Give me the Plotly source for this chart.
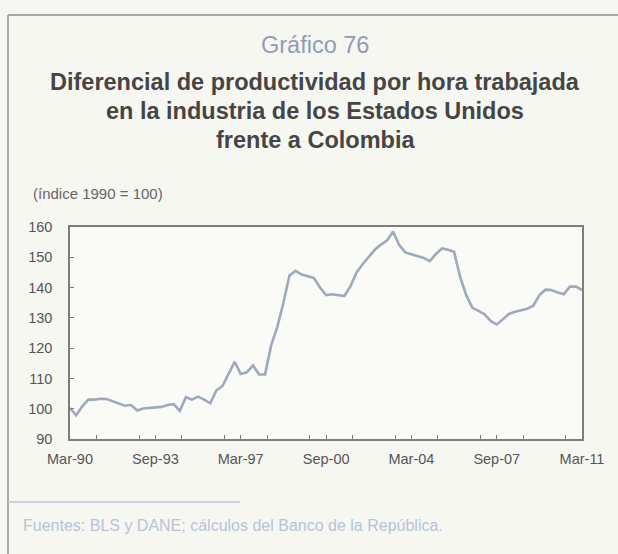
import pandas as pd
import plotly.graph_objects as go

# Quarterly index (1990 = 100), Mar-90 .. Mar-11
start_period = "1990-03-01"
end_period = "2011-03-01"
productivity_gap = [
    100.2, 97.8, 100.8, 103.0, 103.0, 103.3, 103.2, 102.5,
    101.8, 101.0, 101.2, 99.4, 100.1, 100.2, 100.5, 100.6,
    101.2, 101.5, 99.3, 103.8, 103.0, 104.0, 103.0, 101.8,
    106.0, 107.5, 111.5, 115.5, 111.5, 112.0, 114.3, 111.3,
    111.3, 121.0, 127.0, 135.0, 144.0, 145.5, 144.3, 143.8,
    143.2, 140.0, 137.5, 137.8, 137.4, 137.2, 140.5, 145.0,
    147.7, 150.3, 152.5, 154.2, 155.5, 158.5, 154.0, 151.6,
    151.0, 150.6, 149.8, 148.7, 151.0, 152.9, 152.5, 151.8,
    143.5, 137.5, 133.3, 132.3, 131.2, 129.0, 127.8, 129.5,
    131.3, 132.0, 132.6, 133.0, 134.0, 137.5, 139.3, 139.2,
    138.4, 137.8, 140.3, 140.3, 139.2,
]
quarters = pd.date_range(start_period, periods=len(productivity_gap), freq="3MS")

chart_number = "Gráfico 76"
title_lines = [
    "Diferencial de productividad por hora trabajada",
    "en la industria de los Estados Unidos",
    "frente a Colombia",
]
unit_label = "(índice 1990 = 100)"
source_note = "Fuentes: BLS y DANE; cálculos del Banco de la República."

W, H = 618, 554
L, R, T, B = 70, 36, 227, 115
PW, PH = W - L - R, H - T - B


def px(x):
    return (x - L) / PW


def py(y):
    return (H - B - y) / PH


axis_col = "#7d7d7d"
font_family = "Liberation Sans, Arial, sans-serif"
tick_font = dict(family=font_family, size=14.5, color="#555555")

fig = go.Figure()
fig.add_trace(go.Scatter(
    x=quarters, y=productivity_gap, mode="lines",
    line=dict(color="#9ea8bf", width=2.6),
    hoverinfo="skip", showlegend=False,
))

fig.update_layout(
    width=W, height=H,
    margin=dict(l=L, r=R, t=T, b=B, pad=0),
    paper_bgcolor="#f7f7f2",
    plot_bgcolor="#fafaf6",
    showlegend=False,
)

fig.update_xaxes(
    type="date", range=[start_period, end_period],
    tick0=start_period, dtick="M42", tickformat="%b-%y",
    ticks="inside", ticklen=4, tickcolor=axis_col, tickwidth=1,
    minor=dict(dtick="M21", ticks="inside", ticklen=4, tickcolor=axis_col),
    showline=True, linecolor=axis_col, linewidth=1.5, mirror=True,
    showgrid=False, zeroline=False, tickfont=tick_font,
    ticklabelstandoff=6,
)
fig.update_yaxes(
    range=[90, 160], dtick=10, tick0=90,
    ticks="inside", ticklen=4, tickcolor=axis_col, tickwidth=1,
    showline=True, linecolor=axis_col, linewidth=1.5, mirror=True,
    showgrid=False, zeroline=False, tickfont=tick_font,
    ticklabelstandoff=13,
)

shapes = [
    # outer frame (top and left edges)
    dict(type="line", xref="paper", yref="paper", x0=px(8), x1=px(W + 5), y0=py(15), y1=py(15),
         line=dict(color="#8c8c8c", width=1.5)),
    dict(type="line", xref="paper", yref="paper", x0=px(8), x1=px(8), y0=py(15), y1=py(H + 5),
         line=dict(color="#8c8c8c", width=1.5)),
    # rule above the source note
    dict(type="line", xref="paper", yref="paper", x0=px(8), x1=px(240), y0=py(502), y1=py(502),
         line=dict(color="#b9c5d8", width=1.5)),
]
fig.update_layout(shapes=shapes)

ann = [
    dict(text=chart_number, x=px(315), y=py(45), xanchor="center", yanchor="middle",
         font=dict(family=font_family, size=23.5, color="#8e9db5")),
    dict(text=unit_label, x=px(31), y=py(193), xanchor="left", yanchor="middle",
         font=dict(family=font_family, size=15, color="#666666")),
    dict(text=source_note, x=px(21), y=py(525), xanchor="left", yanchor="middle",
         font=dict(family=font_family, size=16, color="#b6c3d9")),
]
for i, line in enumerate(title_lines):
    ann.append(dict(text="<b>" + line + "</b>", x=px(315), y=py(82 + i * 29),
                    xanchor="center", yanchor="middle",
                    font=dict(family=font_family, size=23.5, color="#454545")))
for a in ann:
    a.update(xref="paper", yref="paper", showarrow=False)
fig.update_layout(annotations=ann)

fig.write_html("out.html")
